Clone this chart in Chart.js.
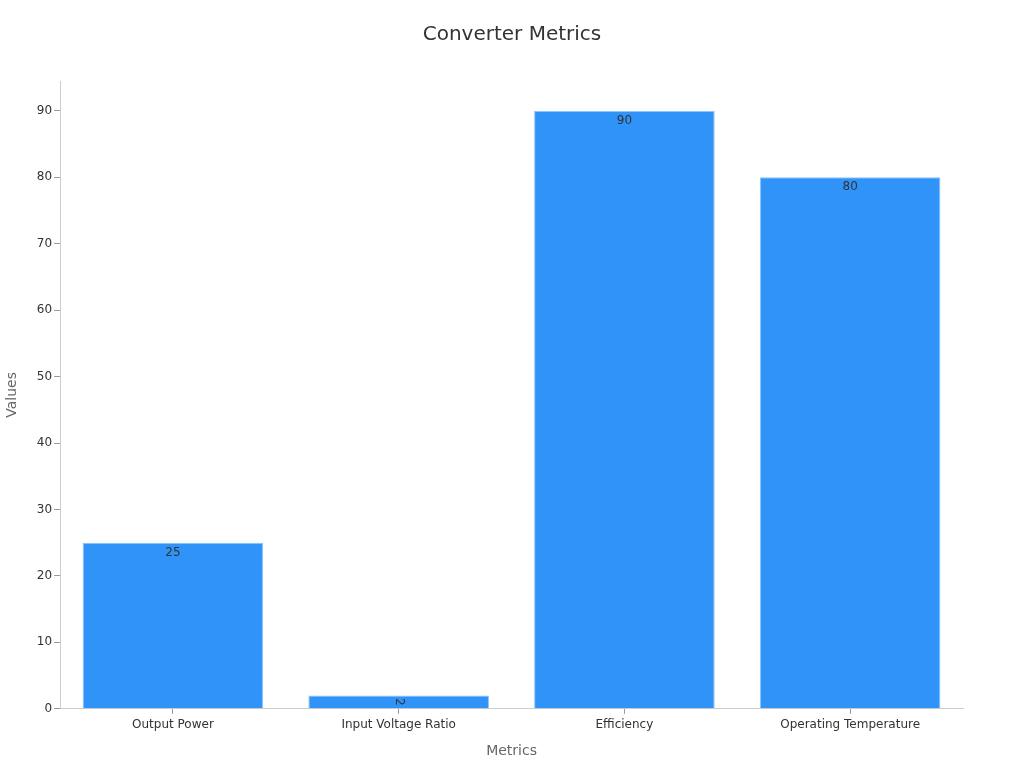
<!DOCTYPE html>
<html><head><meta charset="utf-8">
<script src="https://cdn.jsdelivr.net/npm/chart.js@4"></script>
<style>html,body{margin:0;padding:0;background:#fff}#wrap{width:1024px;height:768px}</style>
</head><body><div id="wrap"><canvas id="c"></canvas></div>
<script>
const categories = ["Output Power", "Input Voltage Ratio", "Efficiency", "Operating Temperature"];
const values = [25, 2, 90, 80];
const yTicks = [0, 10, 20, 30, 40, 50, 60, 70, 80, 90];
const chartTitle = "Converter Metrics";
const xTitle = "Metrics";
const yTitle = "Values";

const labelPlugin = {
  id: 'barLabels',
  afterDatasetsDraw(chart) {
    const ctx = chart.ctx;
    const meta = chart.getDatasetMeta(0);
    ctx.save();
    ctx.fillStyle = '#333';
    ctx.font = '12px "DejaVu Sans", sans-serif';
    meta.data.forEach((bar, i) => {
      const txt = String(values[i]);
      const h = bar.base - bar.y;
      if (h < 20) {
        ctx.save();
        ctx.translate(bar.x, bar.y + h / 2);
        ctx.rotate(Math.PI / 2);
        ctx.textAlign = 'center';
        ctx.textBaseline = 'middle';
        ctx.fillText(txt, 0, 0);
        ctx.restore();
      } else {
        ctx.textAlign = 'center';
        ctx.textBaseline = 'top';
        ctx.fillText(txt, bar.x, bar.y + 4);
      }
    });
    ctx.restore();
  }
};

const titlePlugin = {
  id: 'centerTitle',
  afterDraw(chart) {
    const ctx = chart.ctx;
    ctx.save();
    ctx.fillStyle = '#333';
    ctx.font = '20px "DejaVu Sans", sans-serif';
    ctx.textAlign = 'center';
    ctx.textBaseline = 'middle';
    ctx.fillText(chartTitle, chart.width / 2, 35);
    ctx.restore();
  }
};

new Chart(document.getElementById('c'), {
  type: 'bar',
  data: {
    labels: categories,
    datasets: [{
      data: values,
      backgroundColor: '#2f93f8',
      borderColor: '#8cc3fb',
      borderWidth: 1,
      barPercentage: 0.8,
      categoryPercentage: 1.0
    }]
  },
  options: {
    responsive: true,
    maintainAspectRatio: false,
    animation: false,
    layout: { padding: { top: 81, right: 61, bottom: 4, left: 0 } },
    plugins: {
      legend: { display: false },
      tooltip: { enabled: false },
      title: { display: false }
    },
    scales: {
      x: {
        grid: { display: true, offset: false, drawOnChartArea: false, drawTicks: true, tickLength: 5, color: '#999' },
        border: { display: true, color: '#ccc' },
        ticks: { color: '#333', font: { family: '"DejaVu Sans", sans-serif', size: 12 }, padding: 4 },
        title: { display: true, text: xTitle, color: '#666', font: { family: '"DejaVu Sans", sans-serif', size: 14 }, padding: { top: 7 } }
      },
      y: {
        min: 0, max: 94.5,
        afterBuildTicks(axis) { axis.ticks = yTicks.map(v => ({ value: v })); },
        grid: { drawOnChartArea: false, drawTicks: true, tickLength: 6, color: '#999' },
        border: { display: true, color: '#ccc' },
        ticks: { color: '#333', font: { family: '"DejaVu Sans", sans-serif', size: 12 }, padding: 2 },
        title: { display: true, text: yTitle, color: '#666', font: { family: '"DejaVu Sans", sans-serif', size: 14 }, padding: { bottom: 14 } }
      }
    }
  },
  plugins: [labelPlugin, titlePlugin]
});
</script></body></html>
